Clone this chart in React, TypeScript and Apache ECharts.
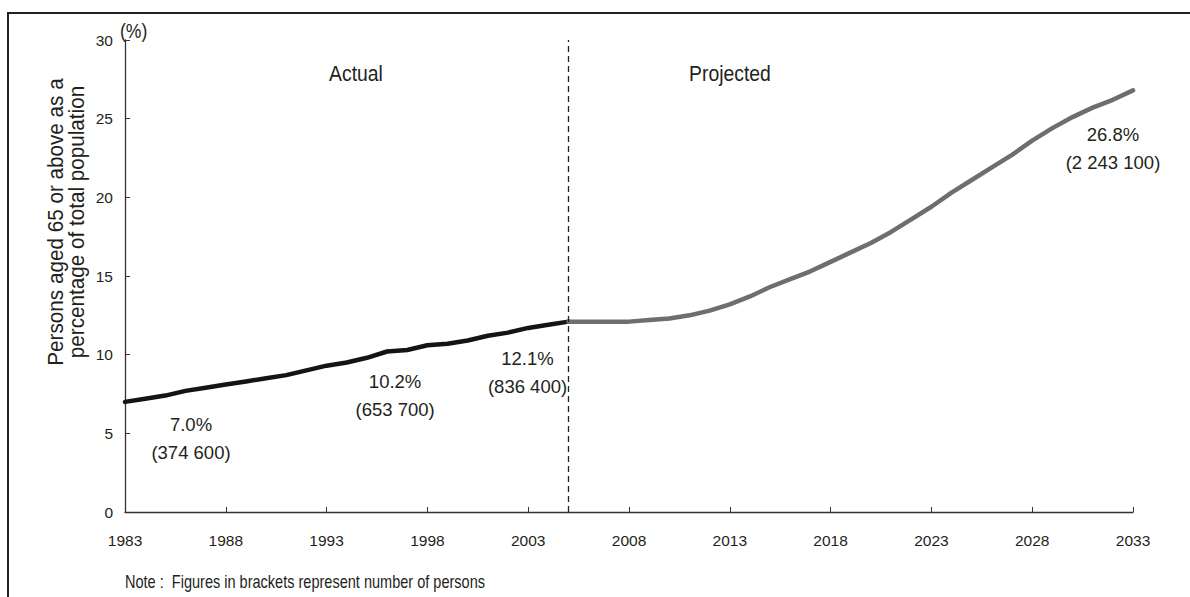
import { useEffect, useRef } from "react";
import * as echarts from "echarts";

// Calendar years on the horizontal axis
const years = [
  "1983", "1984", "1985", "1986", "1987", "1988", "1989", "1990", "1991", "1992",
  "1993", "1994", "1995", "1996", "1997", "1998", "1999", "2000", "2001", "2002",
  "2003", "2004", "2005", "2006", "2007", "2008", "2009", "2010", "2011", "2012",
  "2013", "2014", "2015", "2016", "2017", "2018", "2019", "2020", "2021", "2022",
  "2023", "2024", "2025", "2026", "2027", "2028", "2029", "2030", "2031", "2032",
  "2033",
];

// Persons aged 65+ as % of total population, 1983–2005 (actual)
const actualShare = [
  7.0, 7.2, 7.4, 7.7, 7.9, 8.1, 8.3, 8.5, 8.7, 9.0,
  9.3, 9.5, 9.8, 10.2, 10.3, 10.6, 10.7, 10.9, 11.2, 11.4,
  11.7, 11.9, 12.1,
];

// 2005–2033 (projected)
const projectedShare = [
  12.1, 12.1, 12.1, 12.1, 12.2, 12.3, 12.5, 12.8, 13.2, 13.7,
  14.3, 14.8, 15.3, 15.9, 16.5, 17.1, 17.8, 18.6, 19.4, 20.3,
  21.1, 21.9, 22.7, 23.6, 24.4, 25.1, 25.7, 26.2, 26.8,
];

const actualStart = "1983";
const projectionStart = "2005";

// Annotated years and the number of persons aged 65+
const calloutYears = ["1983", "1996", "2005", "2033"];
const calloutPersons = ["374 600", "653 700", "836 400", "2 243 100"];

const yTicks = { min: 0, max: 30, step: 5 };

const FONT = '"Liberation Sans", Arial, sans-serif';
const TEXT = "#231f20";

// free text drawn slightly condensed
const narrowText = (
  text: string,
  x: number,
  y: number,
  fontSize: number,
  squeeze: number,
  align: string,
  extra: Record<string, unknown> = {}
) => ({
  type: "text",
  x,
  y,
  scaleX: squeeze,
  silent: true,
  ...extra,
  style: {
    text,
    fontFamily: FONT,
    fontSize,
    fill: TEXT,
    align,
    verticalAlign: "middle",
    ...((extra.style as object) || {}),
  },
});

export default function App() {
  const ref = useRef<HTMLDivElement>(null);

  useEffect(() => {
    document.body.style.margin = "0";
    if (!ref.current) return;
    const chart = echarts.init(ref.current, null, { renderer: "svg" });

    const actualIdx = years.indexOf(actualStart);
    const projIdx = years.indexOf(projectionStart);

    const actualData = years.map((_, i) => {
      const k = i - actualIdx;
      return k >= 0 && k < actualShare.length ? actualShare[k] : null;
    });
    const projectedData = years.map((_, i) => {
      const k = i - projIdx;
      return k >= 0 && k < projectedShare.length ? projectedShare[k] : null;
    });

    // label placement relative to the annotated point
    const offsets: Record<string, number[]> = {
      "1983": [66, 37],
      "1996": [8, 44],
      "2005": [-41, 51],
      "2033": [-20, 58],
    };

    const makeCallouts = (data: (number | null)[]) =>
      calloutYears
        .map((yr, j) => {
          const v = data[years.indexOf(yr)];
          if (v == null) return null;
          return {
            coord: [yr, v],
            value: v,
            symbolSize: 0,
            label: {
              show: true,
              position: "inside",
              offset: offsets[yr],
              formatter: `${v.toFixed(1)}%\n(${calloutPersons[j]})`,
              fontFamily: FONT,
              fontSize: 18.5,
              lineHeight: 28,
              color: TEXT,
              align: "center",
            },
          };
        })
        .filter(Boolean);

    // the last annotated year belongs to the projection only
    const actualCallouts = makeCallouts(actualData).filter(
      (d: any) => d.coord[0] !== "2033"
    );
    const projectedCallouts = makeCallouts(projectedData).filter(
      (d: any) => d.coord[0] === "2033"
    );

    chart.setOption({
      animation: false,
      backgroundColor: "#ffffff",
      grid: { left: 125, right: 57, top: 40, bottom: 85, containLabel: false },
      xAxis: {
        type: "category",
        data: years,
        boundaryGap: false,
        axisLine: { show: true, lineStyle: { color: "#333", width: 1.3 } },
        axisTick: {
          show: true,
          inside: true,
          length: 5,
          interval: 4,
          lineStyle: { color: "#333" },
        },
        axisLabel: {
          interval: 4,
          margin: 20,
          fontFamily: FONT,
          fontSize: 15.5,
          color: TEXT,
        },
        splitLine: { show: false },
      },
      yAxis: {
        type: "value",
        min: yTicks.min,
        max: yTicks.max,
        interval: yTicks.step,
        axisLine: { show: true, lineStyle: { color: "#333", width: 1.3 } },
        axisTick: { show: true, inside: true, length: 5, lineStyle: { color: "#333" } },
        axisLabel: { margin: 12, fontFamily: FONT, fontSize: 15.5, color: TEXT },
        splitLine: { show: false },
      },
      series: [
        {
          name: "Actual",
          type: "line",
          data: actualData,
          showSymbol: false,
          lineStyle: { color: "#141414", width: 4.5, join: "round", cap: "round" },
          markLine: {
            silent: true,
            symbol: "none",
            label: { show: false },
            lineStyle: { color: "#222", width: 1.3, type: [6, 4] },
            data: [{ xAxis: projectionStart }],
          },
          markPoint: { symbolSize: 0, data: actualCallouts },
        },
        {
          name: "Projected",
          type: "line",
          data: projectedData,
          showSymbol: false,
          lineStyle: { color: "#6d6e71", width: 4.5, join: "round", cap: "round" },
          markPoint: { symbolSize: 0, data: projectedCallouts },
        },
      ],
      graphic: [
        {
          type: "rect",
          shape: { x: 8, y: 13, width: 1300, height: 700 },
          style: { fill: "none", stroke: "#231f20", lineWidth: 2 },
          silent: true,
        },
        narrowText("(%)", 120, 31, 20, 0.88, "left"),
        narrowText(
          "Persons aged 65 or above as a\npercentage of total population",
          66,
          222,
          22,
          0.94,
          "center",
          { rotation: Math.PI / 2, style: { lineHeight: 21 } }
        ),
        narrowText("Actual", 356, 73, 22, 0.88, "center"),
        narrowText("Projected", 730, 73, 22, 0.88, "center"),
        narrowText(
          "Note :  Figures in brackets represent number of persons",
          125,
          581,
          17.5,
          0.83,
          "left"
        ),
      ],
    });

    return () => chart.dispose();
  }, []);

  return <div ref={ref} style={{ width: 1190, height: 597 }} />;
}
